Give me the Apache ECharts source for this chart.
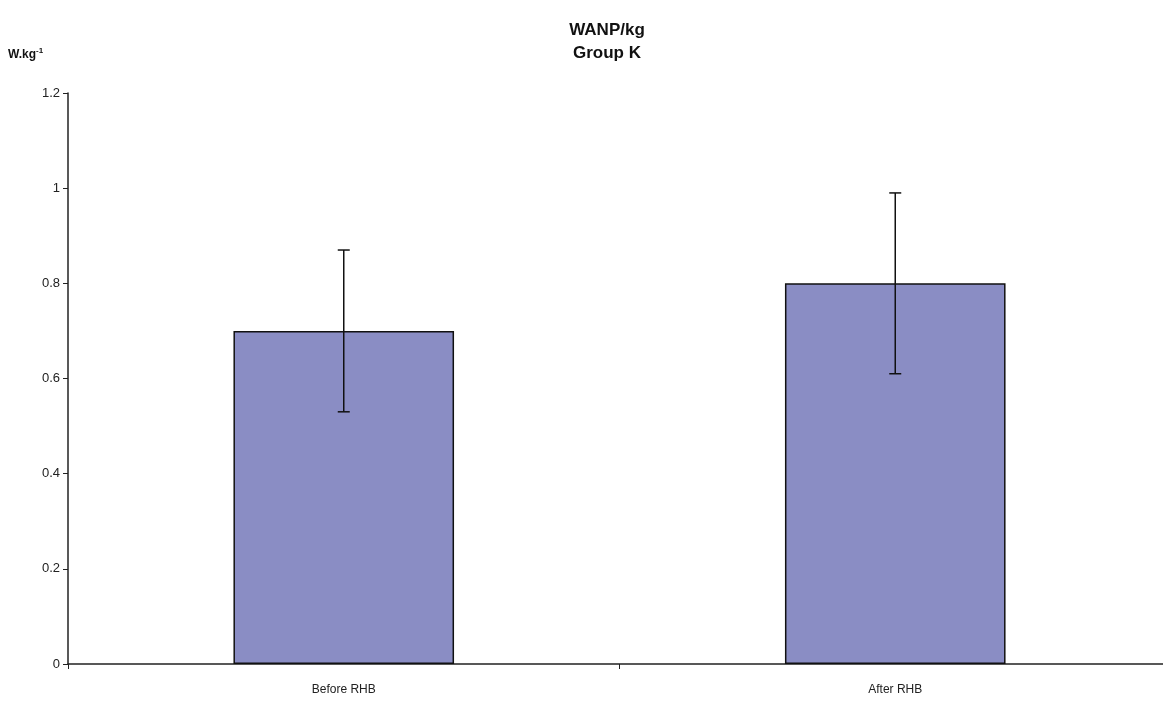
<!DOCTYPE html>
<html>
<head>
<meta charset="utf-8">
<script src="https://cdn.jsdelivr.net/npm/echarts@6/dist/echarts.min.js"></script>
<style>
  html, body { margin: 0; padding: 0; background: #fff; overflow: hidden; }
  #chart { width: 1171px; height: 704px; }
</style>
</head>
<body>
<div id="chart"></div>
<script>
// 数据
const categories = ['Before RHB', 'After RHB'];
const means = [0.7, 0.8];
const errLow = [0.53, 0.61];
const errHigh = [0.87, 0.99];
const yTicks = [0, 0.2, 0.4, 0.6, 0.8, 1, 1.2];

const chart = echarts.init(document.getElementById('chart'));

const errData = categories.map((c, i) => [i, errLow[i], errHigh[i]]);

chart.setOption({
    animation: false,
    title: {
        text: 'WANP/kg\nGroup K',
        left: 602,
        textAlign: 'center',
        top: 14,
        textStyle: {
            fontFamily: 'Liberation Sans',
            fontWeight: 'bold',
            fontSize: 17,
            lineHeight: 23,
            color: '#111'
        }
    },
    grid: { left: 68, right: 0, top: 93, bottom: 40 },
    xAxis: {
        type: 'category',
        data: categories,
        axisLine: { lineStyle: { color: '#222', width: 1.5 } },
        axisTick: { show: true, length: 5, lineStyle: { color: '#222' } },
        axisLabel: {
            fontFamily: 'Liberation Sans',
            fontSize: 12,
            color: '#222',
            margin: 20
        }
    },
    yAxis: {
        type: 'value',
        min: 0,
        max: 1.2,
        interval: 0.2,
        name: '{b|W.kg}{s|-1}',
        nameLocation: 'end',
        nameGap: 0,
        nameTextStyle: {
            align: 'left',
            padding: [0, 0, 30, -60],
            rich: {
                b: { fontFamily: 'Liberation Sans', fontWeight: 'bold', fontSize: 12, color: '#111' },
                s: { fontFamily: 'Liberation Sans', fontWeight: 'bold', fontSize: 8, color: '#111', verticalAlign: 'top', padding: [0, 0, 8, 0] }
            }
        },
        axisLine: { show: true, lineStyle: { color: '#222', width: 1.5 } },
        axisTick: { show: true, length: 5, lineStyle: { color: '#222' } },
        splitLine: { show: false },
        axisLabel: {
            fontFamily: 'Liberation Sans',
            fontSize: 13,
            color: '#222',
            margin: 8,
            formatter: v => yTicks.includes(+v.toFixed(1)) ? String(+v.toFixed(1)) : ''
        }
    },
    series: [
        {
            type: 'bar',
            data: means,
            barWidth: '40%',
            itemStyle: { color: '#8a8dc4', borderColor: '#111', borderWidth: 1.5 }
        },
        {
            type: 'custom',
            data: errData,
            z: 10,
            renderItem: function (params, api) {
                const x = api.value(0);
                const lo = api.coord([x, api.value(1)]);
                const hi = api.coord([x, api.value(2)]);
                const cap = 6;
                const style = { stroke: '#111', lineWidth: 1.5 };
                return {
                    type: 'group',
                    children: [
                        { type: 'line', shape: { x1: hi[0], y1: hi[1], x2: lo[0], y2: lo[1] }, style: style },
                        { type: 'line', shape: { x1: hi[0] - cap, y1: hi[1], x2: hi[0] + cap, y2: hi[1] }, style: style },
                        { type: 'line', shape: { x1: lo[0] - cap, y1: lo[1], x2: lo[0] + cap, y2: lo[1] }, style: style }
                    ]
                };
            }
        }
    ]
});
</script>
</body>
</html>
